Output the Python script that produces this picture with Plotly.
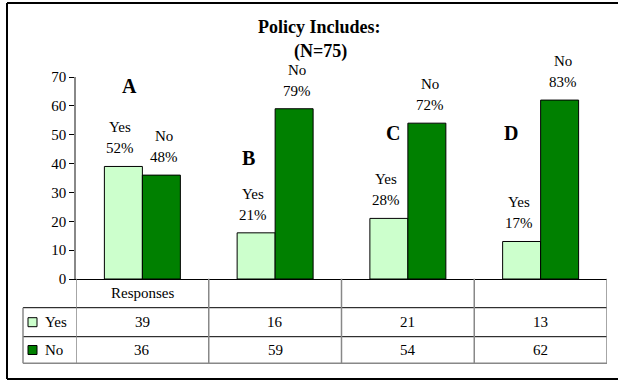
import plotly.graph_objects as go

# Survey responses (N = 75) for each policy item
groups = ["A", "B", "C", "D"]
yes_counts = [39, 16, 21, 13]
no_counts = [36, 59, 54, 62]
total_n = 75
row_header = "Responses"
series_names = ["Yes", "No"]

# placement of the group letters (offset in category units, y in data units)
letter_place = [(-0.10, 66.9), (-0.20, 41.9), (-0.11, 50.5), (-0.22, 50.5)]

YES_COLOR = "#CCFFCC"
NO_COLOR = "#008000"
FONT = "Liberation Serif"
TXT = 15

W, H = 618, 381
ML, MR, MT, MB = 76, 11, 77, 102
PW, PH = W - ML - MR, H - MT - MB


def px(x):
    """pixel x -> paper x"""
    return (x - ML) / PW


def py(y):
    """pixel y -> paper y"""
    return (H - MB - y) / PH


fig = go.Figure()
x_idx = list(range(len(groups)))
fig.add_bar(x=x_idx, y=yes_counts, name=series_names[0], marker_color=YES_COLOR,
            marker_line=dict(color="black", width=1))
fig.add_bar(x=x_idx, y=no_counts, name=series_names[1], marker_color=NO_COLOR,
            marker_line=dict(color="black", width=1))

annotations = []
shapes = []


def text(x, y, s, xref="x", yref="y", size=TXT, bold=False, xshift=0, yshift=0,
         xanchor="center"):
    annotations.append(dict(
        x=x, y=y, xref=xref, yref=yref, text=f"<b>{s}</b>" if bold else s,
        showarrow=False, xanchor=xanchor, yanchor="middle",
        xshift=xshift, yshift=yshift,
        font=dict(family=FONT, size=size, color="black")))


# title
text(px(319), py(27), "Policy Includes:", "paper", "paper", size=18, bold=True)
text(px(320), py(52), "(N=75)", "paper", "paper", size=18, bold=True)

bar_off = 0.143
for i, g in enumerate(groups):
    dx, dy = letter_place[i]
    text(i + dx, dy, g, size=20, bold=True)
    for sign, name, vals in ((-1, series_names[0], yes_counts),
                             (1, series_names[1], no_counts)):
        v = vals[i]
        pct = round(v / total_n * 100)
        xc = i + sign * bar_off
        text(xc, v, f"{pct}%", xshift=sign * 3, yshift=18)
        text(xc, v, name, xshift=sign * 3, yshift=39)

# data table below the plot
row_top = [278.7, 307.7, 336.7, 363.3]
row_mid = [(row_top[k] + row_top[k + 1]) / 2 for k in range(3)]
GRAY = "#888888"


def hline(y, x0, x1, color="black", w=1):
    shapes.append(dict(type="line", xref="paper", yref="paper",
                       x0=px(x0), x1=px(x1), y0=py(y), y1=py(y),
                       line=dict(color=color, width=w)))


def vline_data(x, y0, y1, color=GRAY, w=1.5):
    shapes.append(dict(type="line", xref="x", yref="paper", x0=x, x1=x,
                       y0=py(y0), y1=py(y1), line=dict(color=color, width=w)))


for y in row_top[1:]:
    last = y == row_top[-1]
    hline(y, 23, 607, color=GRAY if last else "black", w=1.5 if last else 1)
# legend column left edge
shapes.append(dict(type="line", xref="paper", yref="paper", x0=px(23), x1=px(23),
                   y0=py(row_top[1]), y1=py(row_top[-1]),
                   line=dict(color=GRAY, width=1.5)))
# column separators
for k in range(len(groups) + 1):
    vline_data(k - 0.5, row_top[0], row_top[-1])

text(0, py(row_mid[0]), row_header, yref="paper")
for i in range(len(groups)):
    text(i, py(row_mid[1]), str(yes_counts[i]), yref="paper")
    text(i, py(row_mid[2]), str(no_counts[i]), yref="paper")

# legend keys inside the table
for k, (name, col) in enumerate(zip(series_names, (YES_COLOR, NO_COLOR))):
    yc = row_mid[k + 1]
    shapes.append(dict(type="rect", xref="paper", yref="paper",
                       x0=px(28), x1=px(37), y0=py(yc - 4.5), y1=py(yc + 4.5),
                       fillcolor=col, line=dict(color="black", width=1)))
    text(px(43), py(yc), name, "paper", "paper", xanchor="left")

# outer frame (left, top, bottom)
frame = dict(color="black", width=2)
shapes.append(dict(type="line", xref="paper", yref="paper", x0=px(7), x1=px(7),
                   y0=py(3), y1=py(379), line=frame))
shapes.append(dict(type="line", xref="paper", yref="paper", x0=px(7), x1=px(618),
                   y0=py(3), y1=py(3), line=frame))
shapes.append(dict(type="line", xref="paper", yref="paper", x0=px(7), x1=px(618),
                   y0=py(379), y1=py(379), line=frame))

fig.update_layout(
    width=W, height=H,
    margin=dict(l=ML, r=MR, t=MT, b=MB),
    paper_bgcolor="white", plot_bgcolor="white",
    barmode="group", bargap=0.4275, bargroupgap=0,
    showlegend=False,
    font=dict(family=FONT, size=TXT, color="black"),
    xaxis=dict(range=[-0.5, len(groups) - 0.5], showticklabels=False,
               ticks="", showgrid=False, zeroline=False,
               showline=True, linecolor="black", linewidth=1),
    yaxis=dict(range=[0, 70], dtick=10, ticks="outside", ticklen=5,
               tickcolor="black", showgrid=False, zeroline=False,
               showline=True, linecolor=GRAY, linewidth=1.5,
               tickfont=dict(family=FONT, size=TXT, color="black")),
    annotations=annotations,
    shapes=shapes,
)

fig.write_html("out.html", config={"displayModeBar": False})
